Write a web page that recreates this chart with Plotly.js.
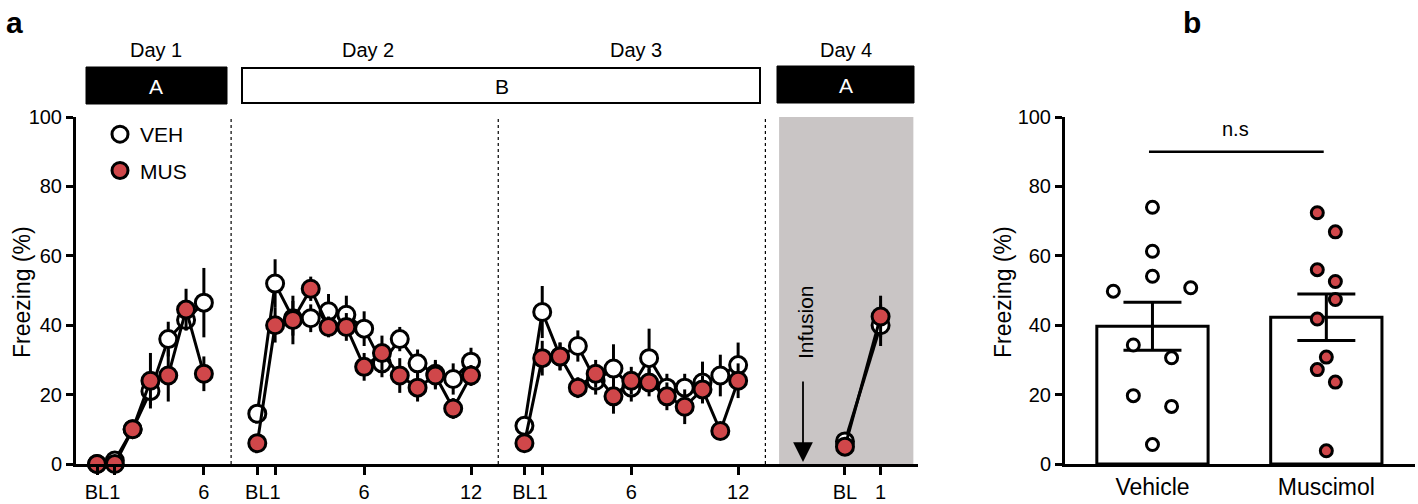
<!DOCTYPE html>
<html>
<head>
<meta charset="utf-8">
<script src="https://cdn.plot.ly/plotly-3.0.1.min.js"></script>
<style>
  html, body { margin: 0; padding: 0; background: #fff; }
  #chart { width: 1418px; height: 504px; }
</style>
</head>
<body>
<div id="chart"></div>
<script>
// Panel a: freezing (%) per trial, mean and SEM
const day1Veh = [0, 1, 10, 21, 36, 41.5, 46.5];
const day1VehErr = [0.5, 1, 1.5, 4, 5, 3, 10];
const day1Mus = [0, 0, 10, 24, 25.5, 44.5, 26];
const day1MusErr = [0, 0.5, 1.5, 8, 7.5, 6, 5];

const day2Veh = [14.5, 52, 42, 42, 44, 43, 39, 29, 36, 29, 26, 24.5, 29.5];
const day2VehErr = [2, 7, 5, 4, 5, 5.5, 5, 4, 3.5, 4, 4, 4.5, 4];
const day2Mus = [6, 40, 41.5, 50.5, 39.5, 39.5, 28, 32, 25.5, 22, 25.5, 16, 25.5];
const day2MusErr = [1.5, 5, 7, 3.5, 3, 4, 4, 5, 5, 4, 4, 3, 3];

const day3Veh = [11, 43.8, 31, 34, 24, 27.5, 22, 30.5, 22, 22, 23.5, 25.5, 28.5];
const day3VehErr = [2, 7.5, 4, 4.5, 4, 7, 4, 8.5, 4, 4, 6, 6, 6.5];
const day3Mus = [6, 30.5, 31, 22, 26, 19.5, 24, 23.5, 19.5, 16.5, 21.5, 9.5, 24];
const day3MusErr = [1.5, 5, 4, 3, 4, 5, 4, 4, 4, 5, 4, 2, 5];

const day4Veh = [6.5, 40];
const day4VehErr = [1, 6];
const day4Mus = [5, 42.5];
const day4MusErr = [1, 6];

// trial positions on the shared x axis (BL = 0, trial k = k)
const trials = [0, 1, 2, 3, 4, 5, 6, 7, 8, 9, 10, 11, 12];
const dayStart = [0, 9, 24];
const day4Pos = [42, 44];

const tickPos = [0, 1, 6, 9, 10, 15, 21, 24, 25, 30, 36, 42, 44];
const tickText = ['BL', '1', '6', 'BL', '1', '6', '12', 'BL', '1', '6', '12', 'BL', '1'];

// Panel b: individual animals, mean and SEM
const groups = ['Vehicle', 'Muscimol'];
const groupMean = [39.7, 42.3];
const groupSem = [6.9, 6.7];
const vehPoints = [74, 61.3, 54.1, 49.8, 50.8, 34.3, 30.6, 19.7, 16.6, 5.6];
const musPoints = [72.4, 66.9, 56, 52.6, 47.4, 41.8, 30.8, 27.2, 23.6, 3.8];
// horizontal spread of the dots (in category units)
const vehSpread = [0, 0, 0, -0.225, 0.22, -0.11, 0.11, -0.11, 0.11, 0];
const musSpread = [-0.052, 0.052, -0.052, 0.052, 0.052, -0.052, 0, -0.052, 0.052, 0];

const RED = '#d0474a';
const FONT = 'Liberation Sans, Arial, sans-serif';
const W = 1418, H = 504;
function px(x) { return x / W; }
function py(y) { return 1 - y / H; }

// join the day segments with gaps so lines do not cross days
function joinDays(d1, d2, d3, d4) {
  let xs = [], ys = [];
  [d1, d2, d3].forEach(function(vals, i) {
    vals.forEach(function(v, k) {
      xs.push(dayStart[i] + trials[k]);
      ys.push(v);
    });
    xs.push(null);
    ys.push(null);
  });
  d4.forEach(function(v, k) {
    xs.push(day4Pos[k]);
    ys.push(v);
  });
  return { x: xs, y: ys };
}

function seriesTrace(vals, errs, fill) {
  let pts = joinDays(vals[0], vals[1], vals[2], vals[3]);
  let e = joinDays(errs[0], errs[1], errs[2], errs[3]).y;
  return {
    x: pts.x, y: pts.y,
    type: 'scatter', mode: 'lines+markers',
    cliponaxis: false, showlegend: false, connectgaps: false,
    line: { color: 'black', width: 3 },
    marker: { size: 17, color: fill, line: { color: 'black', width: 3 } },
    error_y: { type: 'data', array: e, visible: true, color: 'black', thickness: 3, width: 0 },
    xaxis: 'x', yaxis: 'y'
  };
}

const vehTrace = seriesTrace([day1Veh, day2Veh, day3Veh, day4Veh],
  [day1VehErr, day2VehErr, day3VehErr, day4VehErr], 'white');
const musTrace = seriesTrace([day1Mus, day2Mus, day3Mus, day4Mus],
  [day1MusErr, day2MusErr, day3MusErr, day4MusErr], RED);

const legendVeh = {
  x: [null], y: [null], type: 'scatter', mode: 'markers', name: 'VEH',
  legendgroup: 'veh', showlegend: true,
  marker: { size: 16, color: 'white', line: { color: 'black', width: 3 } }
};
const legendMus = {
  x: [null], y: [null], type: 'scatter', mode: 'markers', name: 'MUS',
  legendgroup: 'mus', showlegend: true,
  marker: { size: 16, color: RED, line: { color: 'black', width: 3 } }
};

const barTrace = {
  x: [0, 1], y: groupMean, type: 'bar', width: 0.64, showlegend: false,
  marker: { color: 'white', line: { color: 'black', width: 3 } },
  error_y: { type: 'data', array: groupSem, visible: true, color: 'black', thickness: 3, width: 29 },
  xaxis: 'x2', yaxis: 'y2'
};
const vehDots = {
  x: vehSpread.map(function(o) { return 0 + o; }), y: vehPoints,
  type: 'scatter', mode: 'markers', showlegend: false, cliponaxis: false,
  marker: { size: 12, color: 'white', line: { color: 'black', width: 3 } },
  xaxis: 'x2', yaxis: 'y2'
};
const musDots = {
  x: musSpread.map(function(o) { return 1 + o; }), y: musPoints,
  type: 'scatter', mode: 'markers', showlegend: false, cliponaxis: false,
  marker: { size: 12, color: RED, line: { color: 'black', width: 3 } },
  xaxis: 'x2', yaxis: 'y2'
};

const tickFont = { family: FONT, size: 20, color: 'black' };

function label(text, x, y, size, color) {
  return { text: text, xref: 'paper', yref: 'paper', x: px(x), y: py(y),
    xanchor: 'center', yanchor: 'middle', showarrow: false,
    font: { family: FONT, size: size, color: color || 'black' } };
}

let infusion = label('Infusion', 805, 322, 21);
infusion.textangle = -90;
let yTitleA = label('Freezing (%)', 22, 292, 23);
yTitleA.textangle = -90;
let yTitleB = label('Freezing (%)', 1003, 292, 23);
yTitleB.textangle = -90;

const layout = {
  width: W, height: H,
  margin: { l: 0, r: 0, t: 0, b: 0 },
  paper_bgcolor: 'white', plot_bgcolor: 'rgba(0,0,0,0)',
  font: { family: FONT, color: 'black' },
  showlegend: true,
  legend: {
    x: px(100), y: py(114), xanchor: 'left', yanchor: 'top',
    bgcolor: 'rgba(0,0,0,0)', font: { family: FONT, size: 21 },
    tracegroupgap: 6
  },
  xaxis: {
    domain: [px(76), px(918)], range: [-1.18, 46.1], anchor: 'y',
    showline: true, linewidth: 3, linecolor: 'black', showgrid: false, zeroline: false,
    ticks: 'outside', ticklen: 8, tickwidth: 3, tickcolor: 'black', tickangle: 0,
    tickmode: 'array', tickvals: tickPos, ticktext: tickText, tickfont: tickFont
  },
  yaxis: {
    domain: [py(464), py(117)], range: [0, 100], anchor: 'x',
    showline: true, linewidth: 3, linecolor: 'black', showgrid: false, zeroline: false,
    ticks: 'outside', ticklen: 7, tickwidth: 3, tickcolor: 'black',
    tickvals: [0, 20, 40, 60, 80, 100], tickfont: tickFont
  },
  xaxis2: {
    domain: [px(1065), px(1415)], range: [-0.503, 1.51], anchor: 'y2',
    showline: true, linewidth: 3, linecolor: 'black', showgrid: false, zeroline: false,
    ticks: '', tickmode: 'array', tickvals: [0, 1], ticktext: groups, tickangle: 0,
    tickfont: { family: FONT, size: 23, color: 'black' }
  },
  yaxis2: {
    domain: [py(464), py(117)], range: [0, 100], anchor: 'x2',
    showline: true, linewidth: 3, linecolor: 'black', showgrid: false, zeroline: false,
    ticks: 'outside', ticklen: 7, tickwidth: 3, tickcolor: 'black',
    tickvals: [0, 20, 40, 60, 80, 100], tickfont: tickFont
  },
  shapes: [
    // grey Day 4 context
    { type: 'rect', xref: 'x', yref: 'y', x0: 38.3, x1: 45.84, y0: 0, y1: 100,
      fillcolor: '#c9c5c5', line: { width: 0 }, layer: 'below' },
    // day separators
    { type: 'line', xref: 'x', yref: 'y', x0: 7.53, x1: 7.53, y0: 0, y1: 100,
      line: { color: 'black', width: 1.2, dash: 'dot' } },
    { type: 'line', xref: 'x', yref: 'y', x0: 22.53, x1: 22.53, y0: 0, y1: 100,
      line: { color: 'black', width: 1.2, dash: 'dot' } },
    { type: 'line', xref: 'x', yref: 'y', x0: 37.53, x1: 37.53, y0: 0, y1: 100,
      line: { color: 'black', width: 1.2, dash: 'dot' } },
    // context boxes
    { type: 'rect', xref: 'paper', yref: 'paper', x0: px(86), x1: px(227), y0: py(104), y1: py(67),
      fillcolor: 'black', line: { color: 'black', width: 1 }, layer: 'below' },
    { type: 'rect', xref: 'paper', yref: 'paper', x0: px(242), x1: px(760), y0: py(103), y1: py(68),
      fillcolor: 'white', line: { color: 'black', width: 2 }, layer: 'below' },
    { type: 'rect', xref: 'paper', yref: 'paper', x0: px(777), x1: px(914), y0: py(103), y1: py(66),
      fillcolor: 'black', line: { color: 'black', width: 1 }, layer: 'below' },
    // n.s bracket
    { type: 'line', xref: 'x2', yref: 'y2', x0: -0.02, x1: 0.985, y0: 90, y1: 90,
      line: { color: 'black', width: 2.5 } }
  ],
  annotations: [
    { text: '<b>a</b>', xref: 'paper', yref: 'paper', x: px(4), y: py(4), xanchor: 'left', yanchor: 'top',
      showarrow: false, font: { family: FONT, size: 30 } },
    { text: '<b>b</b>', xref: 'paper', yref: 'paper', x: px(1181), y: py(4), xanchor: 'left', yanchor: 'top',
      showarrow: false, font: { family: FONT, size: 30 } },
    label('Day 1', 156, 50, 20),
    label('Day 2', 368, 50, 20),
    label('Day 3', 636, 50, 20),
    label('Day 4', 846, 50, 20),
    label('A', 156, 86, 21, 'white'),
    label('B', 502, 86, 21),
    label('A', 846, 85, 21, 'white'),
    infusion,
    yTitleA,
    yTitleB,
    { text: '', xref: 'paper', yref: 'paper', x: px(803), y: py(462), ax: 0, ay: -82,
      showarrow: true, arrowhead: 2, arrowsize: 2.2, arrowwidth: 1.8, arrowcolor: 'black' },
    { text: 'n.s', xref: 'x2', yref: 'y2', x: 0.48, y: 90, yshift: 23, showarrow: false,
      font: { family: FONT, size: 20 } }
  ]
};

Plotly.newPlot('chart', [vehTrace, musTrace, legendVeh, legendMus, barTrace, vehDots, musDots],
  layout, { displayModeBar: false, staticPlot: true });
</script>
</body>
</html>
